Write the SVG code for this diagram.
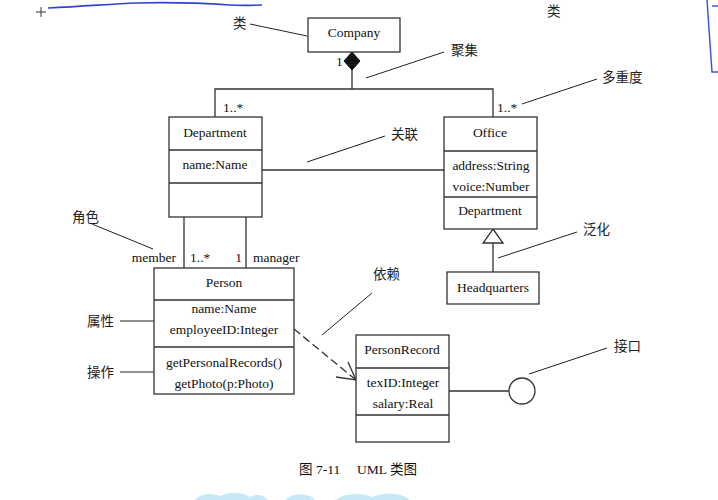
<svg xmlns="http://www.w3.org/2000/svg" width="718" height="500" viewBox="0 0 718 500">
<style>
.box{fill:#fff;stroke:#333;stroke-width:1.3}
.ln{fill:none;stroke:#333;stroke-width:1.3}
.ld{fill:none;stroke:#222;stroke-width:1}
.t{font-family:"Liberation Serif","Noto Sans CJK SC",serif;font-size:13.5px;fill:#111;text-anchor:middle}
.s{font-family:"Liberation Serif",serif;font-size:13.5px;fill:#111}
.c{font-family:"Noto Sans CJK SC",sans-serif;font-size:13.5px;fill:#222}
</style>
<rect width="718" height="500" fill="#fff"/>
<g id="annotations">
<path d="M48,8 C90,6 110,4 137,3 C170,2 200,3 230,5 C245,6 255,5 262,5" fill="none" stroke="#3344cc" stroke-width="1.6"/>
<path d="M36,12 H46 M41,7 V17" stroke="#333" stroke-width="1"/>
<text class="c" x="547" y="16" fill="#555" font-size="14">类</text>
<path d="M707,0 L712,72 L718,72 M712,6 L718,6" fill="none" stroke="#4455dd" stroke-width="1.5"/>
<path d="M195,500 C200,494 210,492 220,496 C228,492 240,491 250,497 C256,494 262,494 268,500 Z M285,500 C292,494 300,492 312,497 L315,500 Z M335,500 C345,493 360,492 372,497 C385,492 400,492 410,500 Z" fill="#c6e8f7"/>
</g>
<g id="connectors">
<polygon points="352,52 360,61 352,70 344,61" fill="#111" stroke="#111"/>
<path class="ln" d="M352,70 V89 M215,117 V89 H493 V117"/>
<path class="ln" d="M262,170 H444"/>
<path class="ln" d="M184,217 V268 M246,217 V268"/>
<polygon points="493,229 503,243 483,243" fill="#fff" stroke="#333" stroke-width="1.3"/>
<path class="ln" d="M493,243 V272"/>
<path class="ln" d="M294,329 L356,380" stroke-dasharray="8,4"/>
<path class="ln" d="M348,362 L356,380 L336,377"/>
<path class="ln" d="M449,391 H509"/>
<circle cx="522" cy="391" r="13" fill="#fff" stroke="#333" stroke-width="1.3"/>
<text class="s" x="336" y="66">1</text>
<text class="s" x="223" y="112">1..*</text>
<text class="s" x="497" y="112">1..*</text>
<text class="s" x="176" y="262" text-anchor="end">member</text>
<text class="s" x="190" y="262">1..*</text>
<text class="s" x="242" y="262" text-anchor="end">1</text>
<text class="s" x="253" y="262">manager</text>
</g>
<g id="labels">
<path class="ld" d="M250,24 L307,36"/>
<text class="c" x="233" y="28">类</text>
<path class="ld" d="M366,78 L444,52"/>
<text class="c" x="451" y="55">聚集</text>
<path class="ld" d="M522,104 L597,79"/>
<text class="c" x="602" y="82">多重度</text>
<path class="ld" d="M307,162 L385,136"/>
<text class="c" x="391" y="139">关联</text>
<path class="ld" d="M498,258 L577,232"/>
<text class="c" x="583" y="234">泛化</text>
<path class="ld" d="M92,224 L153,249"/>
<text class="c" x="72" y="222">角色</text>
<path class="ld" d="M120,321 H154"/>
<text class="c" x="87" y="326">属性</text>
<path class="ld" d="M120,372 H154"/>
<text class="c" x="87" y="377">操作</text>
<path class="ld" d="M322,335 L372,293"/>
<text class="c" x="373" y="279">依赖</text>
<path class="ld" d="M529,374 L607,348"/>
<text class="c" x="614" y="351">接口</text>
</g>
<g id="company">
<rect class="box" x="308" y="18" width="92" height="34"/>
<text class="t" x="354" y="37">Company</text>
</g>
<g id="department">
<rect class="box" x="169" y="117" width="93" height="100"/>
<path class="ln" d="M169,150 H262 M169,183 H262"/>
<text class="t" x="215" y="137">Department</text>
<text class="t" x="215" y="169">name:Name</text>
</g>
<g id="office">
<rect class="box" x="444" y="117" width="93" height="112"/>
<path class="ln" d="M444,151 H537 M444,197 H537"/>
<text class="t" x="490" y="137">Office</text>
<text class="t" x="491" y="170">address:String</text>
<text class="t" x="491" y="191">voice:Number</text>
<text class="t" x="490" y="215">Department</text>
</g>
<g id="headquarters">
<rect class="box" x="447" y="272" width="92" height="32"/>
<text class="t" x="493" y="292">Headquarters</text>
</g>
<g id="person">
<rect class="box" x="154" y="268" width="140" height="126"/>
<path class="ln" d="M154,300 H294 M154,347 H294"/>
<text class="t" x="224" y="287">Person</text>
<text class="t" x="224" y="313">name:Name</text>
<text class="t" x="224" y="334">employeeID:Integer</text>
<text class="t" x="224" y="367">getPersonalRecords()</text>
<text class="t" x="224" y="388">getPhoto(p:Photo)</text>
</g>
<g id="personrecord">
<rect class="box" x="356" y="335" width="93" height="107"/>
<path class="ln" d="M356,368 H449 M356,415 H449"/>
<text class="t" x="402" y="354">PersonRecord</text>
<text class="t" x="403" y="387">texID:Integer</text>
<text class="t" x="403" y="408">salary:Real</text>
</g>
<g id="caption">
<text class="t" x="358" y="474" font-size="14">图 7-11　 UML 类图</text>
</g>
</svg>
